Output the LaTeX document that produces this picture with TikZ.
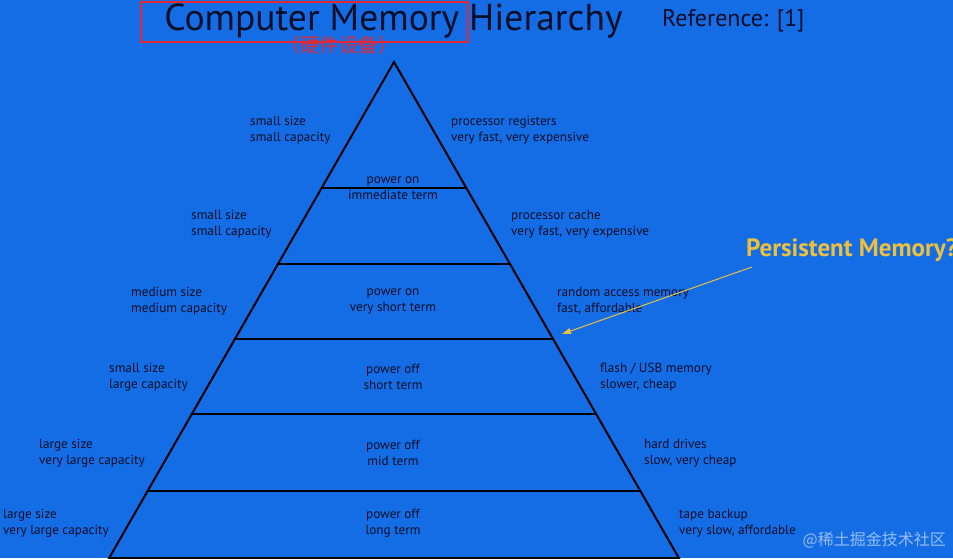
\documentclass[tikz,border=0pt]{standalone}
\usepackage{fontspec}
\setmainfont{PT Sans}
\newfontfamily\cjkfont{Noto Sans CJK SC}
\usetikzlibrary{calc,arrows.meta}
\definecolor{bgblue}{RGB}{20,109,229}
\definecolor{inkc}{RGB}{8,14,40}
\definecolor{redbox}{RGB}{225,40,55}
\definecolor{gold}{RGB}{236,192,62}
\tikzset{
  lbl/.style={font=\fontsize{13.2}{16}\selectfont, text=inkc, align=left, anchor=west, inner sep=0pt},
  ctr/.style={font=\fontsize{13.2}{16}\selectfont, text=inkc, align=center, anchor=center, inner sep=0pt},
  tier/.style={draw=black, line width=2pt},
}
\begin{document}
\begin{tikzpicture}[x=1pt,y=-1pt]
\fill[bgblue] (0,0) rectangle (953,558);
\useasboundingbox (0,0) rectangle (953,558);
\clip (0,0) rectangle (953,558);
% pyramid
\coordinate (apex) at (394,62);
\coordinate (BL) at (108,560);
\coordinate (BR) at (680,560);
\foreach \n/\t in {a/0.2520,b/0.4052,c/0.5565,d/0.7077,e/0.8609,f/0.9960}{
  \coordinate (L\n) at ($(apex)!\t!(BL)$);
  \coordinate (R\n) at ($(apex)!\t!(BR)$);
}
\draw[tier] (BL) -- (apex) -- (BR);
\foreach \n in {a,b,c,d,e,f}{ \draw[tier] (L\n) -- (R\n); }
% title
\node[font=\fontsize{37.5}{40}\selectfont, text=inkc, inner sep=0pt] (title) at (393.5,20.5) {Computer Memory Hierarchy};
\node[draw=redbox, line width=1.5pt, minimum width=327pt, minimum height=40pt, inner sep=0pt] (rbox) at (304.5,22) {};
\node[font=\cjkfont\fontsize{19.5}{22}\selectfont, text=redbox, inner sep=0pt] (cn) at (339,45) {（硬件设备）};
\node[font=\fontsize{24}{26}\selectfont, text=inkc, anchor=west, inner sep=0pt] (ref) at (662,21) {Reference: [1]};
% center texts
\node[ctr] (c1) at (393,188) {power on\\immediate term};
\node[ctr] (c2) at (393,301) {power on\\very short term};
\node[ctr] (c3) at (393,377) {power off\\short term};
\node[ctr] (c4) at (393,453) {power off\\mid term};
\node[ctr] (c5) at (393,523) {power off\\long term};
% left texts
\node[lbl] (l1) at (250,130) {small size\\small capacity};
\node[lbl] (l2) at (191,224) {small size\\small capacity};
\node[lbl] (l3) at (131,301) {medium size\\medium capacity};
\node[lbl] (l4) at (109,377) {small size\\large capacity};
\node[lbl] (l5) at (39,453) {large size\\very large capacity};
\node[lbl] (l6) at (3,523) {large size\\very large capacity};
% right texts
\node[lbl] (r1) at (451,130) {processor registers\\very fast, very expensive};
\node[lbl] (r2) at (511,224) {processor cache\\very fast, very expensive};
\node[lbl] (r3) at (557,301) {random access memory\\fast, affordable};
\node[lbl] (r4) at (600,377) {flash / USB memory\\slower, cheap};
\node[lbl] (r5) at (644,453) {hard drives\\slow, very cheap};
\node[lbl] (r6) at (679,523) {tape backup\\very slow, affordable};
% persistent memory
\node[font=\bfseries\fontsize{25}{28}\selectfont, text=gold, anchor=west, inner sep=0pt] (pm) at (746,250) {Persistent Memory?};
\coordinate (pmtail) at (752,267);
\coordinate (pmhead) at (562,334);
\draw[gold, line width=1pt, -{Triangle[length=9pt,width=6pt]}] (pmtail) -- (pmhead);
% watermark
\node[font=\cjkfont\fontsize{16}{18}\selectfont, text=white, opacity=0.55, anchor=east, inner sep=0pt] (wm) at (946,540) {@稀土掘金技术社区};
\end{tikzpicture}
\end{document}
